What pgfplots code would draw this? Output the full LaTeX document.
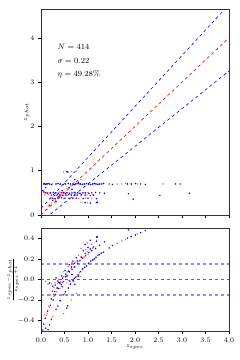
\documentclass[border=0pt]{standalone}
\usepackage{pgfplots}
\usepackage{pgfplotstable}
\pgfplotsset{compat=1.18}

\pgfplotstableread{
zs zp
0.05 0.70
0.07 0.71
0.09 0.69
0.11 0.70
0.13 0.70
0.15 0.71
0.18 0.70
0.22 0.69
0.32 0.70
0.36 0.71
0.41 0.70
0.47 0.69
0.52 0.70
0.58 0.71
0.63 0.70
0.68 0.70
0.71 0.69
0.74 0.70
0.79 0.71
0.84 0.70
0.88 0.69
0.93 0.70
0.97 0.71
1.01 0.70
1.06 0.69
1.10 0.70
1.14 0.71
1.17 0.70
1.21 0.69
1.24 0.70
1.28 0.70
1.33 0.71
1.45 0.70
1.52 0.69
1.84 0.70
1.92 0.70
2.01 0.71
2.12 0.70
2.22 0.69
2.86 0.70
2.96 0.70
0.06 0.52
0.09 0.50
0.14 0.49
0.20 0.50
0.26 0.51
0.31 0.50
0.37 0.49
0.43 0.50
0.48 0.51
0.55 0.50
0.61 0.49
0.66 0.50
0.72 0.51
0.78 0.50
0.83 0.49
0.89 0.50
0.95 0.50
1.02 0.49
1.08 0.50
1.16 0.51
1.25 0.50
1.35 0.49
1.86 0.48
3.16 0.49
0.22 0.45
0.29 0.44
0.35 0.46
0.40 0.45
0.46 0.44
0.53 0.45
0.59 0.46
0.65 0.45
0.71 0.44
0.77 0.45
0.86 0.46
0.94 0.45
1.05 0.44
1.12 0.45
2.53 0.44
0.24 0.38
0.30 0.37
0.36 0.38
0.44 0.39
0.51 0.38
0.60 0.37
0.68 0.38
0.75 0.38
0.90 0.37
1.00 0.38
1.18 0.37
1.96 0.36
0.94 0.28
1.05 0.27
1.18 0.28
1.20 0.29
0.55 0.98
0.57 0.97
0.32 0.30
0.38 0.42
0.45 0.55
0.52 0.48
0.60 0.62
0.66 0.58
0.72 0.80
0.80 0.74
0.18 0.22
0.25 0.33
0.10 0.62
0.04 0.55
}\bluedata

\pgfplotstableread{
zs zp
0.25 0.70
0.40 0.69
0.50 0.71
0.62 0.70
0.70 0.69
0.76 0.71
0.82 0.70
0.90 0.70
1.02 0.69
1.12 0.71
1.30 0.70
1.62 0.70
1.72 0.70
1.80 0.71
2.05 0.70
2.60 0.70
0.12 0.51
0.18 0.50
0.28 0.49
0.34 0.50
0.46 0.50
0.57 0.51
0.70 0.50
0.81 0.49
0.92 0.50
1.00 0.51
0.16 0.46
0.27 0.45
0.33 0.44
0.42 0.45
0.56 0.44
0.64 0.46
0.74 0.45
0.85 0.44
0.98 0.45
1.10 0.46
0.20 0.38
0.27 0.37
0.38 0.38
0.48 0.37
0.58 0.38
0.66 0.39
0.80 0.38
0.95 0.38
1.08 0.37
0.85 0.29
0.99 0.28
0.48 0.97
0.65 0.98
0.75 0.99
0.10 0.12
0.15 0.20
0.22 0.27
0.30 0.34
0.35 0.40
0.42 0.46
0.48 0.44
0.55 0.60
0.63 0.66
0.70 0.74
0.78 0.72
0.85 0.80
0.40 0.52
0.08 0.45
0.13 0.50
}\reddata

\begin{document}
\begin{tikzpicture}[font=\fontsize{8}{9}\selectfont]
\useasboundingbox (-41pt,-145pt) rectangle (199pt,215pt);
\pgfplotsset{
  every axis/.append style={
    scale only axis,
    width=188pt,
    tick align=outside,
    xtick pos=bottom, ytick pos=left,
    major tick length=3pt,
    tick style={black, line width=0.5pt},
    axis line style={black!80, line width=0.6pt},
    tick label style={font=\fontsize{7.5}{8}\selectfont},
    xmin=0, xmax=4,
  },
}
\begin{axis}[
  at={(0pt,0pt)}, anchor=south west,
  height=206pt,
  ymin=0, ymax=4.65,
  xtick={0,0.5,...,4}, xticklabels={},
  ytick={0,1,2,3,4},
  ylabel={$z_{phot}$},
  ylabel style={at={(axis description cs:-0.075,0.5)}, anchor=center, rotate=0, font=\fontsize{6}{7}\selectfont},
]
\addplot[blue, dashed, line width=0.6pt, domain=0:4, samples=2] coordinates {(0,0.15) (4,4.75)};
\addplot[red, dashed, line width=0.6pt] coordinates {(0,0) (4,4)};
\addplot[blue, dashed, line width=0.6pt] coordinates {(0,-0.15) (4,3.25)};
\addplot[only marks, mark=*, mark size=0.55pt, red, opacity=0.45] table[x=zs, y=zp] {\reddata};
\addplot[only marks, mark=*, mark size=0.55pt, blue, opacity=0.9] table[x=zs, y=zp] {\bluedata};
\node[anchor=west] at (axis cs:0.28,3.79) {$N = 414$};
\node[anchor=west] at (axis cs:0.28,3.48) {$\sigma = 0.22$};
\node[anchor=west] at (axis cs:0.28,3.18) {$\eta = 49.28\%$};
\end{axis}

\begin{axis}[
  at={(0pt,-13pt)}, anchor=north west,
  height=103pt,
  ymin=-0.5, ymax=0.5,
  xtick={0,0.5,...,4},
  ytick={-0.4,-0.2,0,0.2,0.4},
  xticklabel style={/pgf/number format/.cd, fixed, fixed zerofill, precision=1},
  yticklabel style={/pgf/number format/.cd, fixed, fixed zerofill, precision=1},
  xlabel={$z_{spec}$},
  xlabel style={at={(axis description cs:0.5,-0.16)}, anchor=center, font=\fontsize{6}{7}\selectfont},
  ylabel={$\frac{z_{spec}-z_{phot}}{z_{spec}+1}$},
  ylabel style={at={(axis description cs:-0.15,0.5)}, anchor=center, font=\fontsize{6}{7}\selectfont},
]
\addplot[red, dashed, line width=0.8pt, opacity=0.85] coordinates {(0,0) (4,0)};
\addplot[blue, dashed, line width=1.4pt, opacity=0.45] coordinates {(0,0.15) (4,0.15)};
\addplot[blue, dashed, line width=1.4pt, opacity=0.45] coordinates {(0,-0.15) (4,-0.15)};
\addplot[only marks, mark=*, mark size=0.55pt, red, opacity=0.45] table[x=zs, y expr={(\thisrow{zs}-\thisrow{zp})/(\thisrow{zs}+1)}] {\reddata};
\addplot[only marks, mark=*, mark size=0.55pt, blue, opacity=0.9] table[x=zs, y expr={(\thisrow{zs}-\thisrow{zp})/(\thisrow{zs}+1)}] {\bluedata};
\end{axis}
\end{tikzpicture}
\end{document}
